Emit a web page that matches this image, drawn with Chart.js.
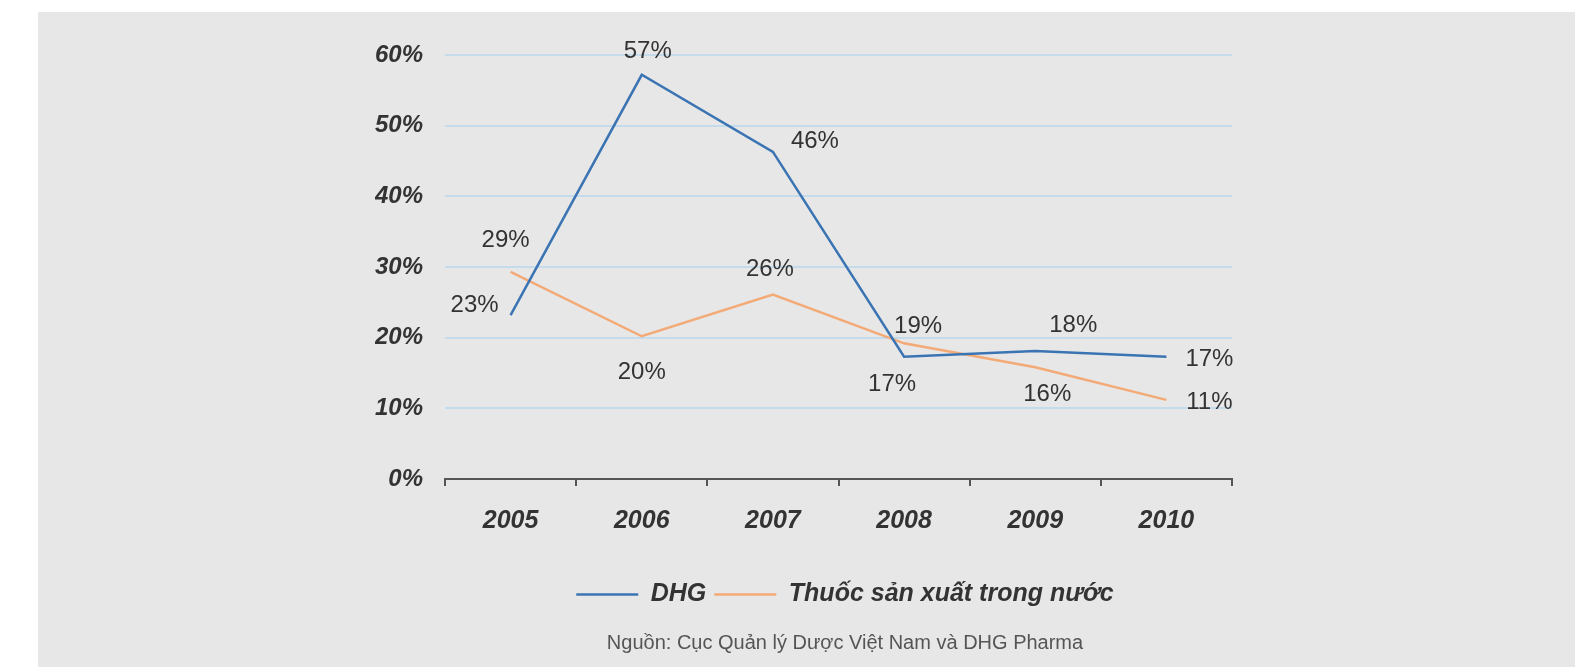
<!DOCTYPE html>
<html lang="vi">
<head>
  <meta charset="UTF-8">
  <title>DHG - Tăng trưởng doanh thu</title>
  <script src="https://cdn.jsdelivr.net/npm/chart.js"></script>
  <style>
    body { margin: 0; background: #fff; }
    #panel { position: absolute; left: 38px; top: 12px; width: 1537px; height: 655px; background: #e7e7e7; }
    #growthChart { position: absolute; left: 0; top: 0; }
  </style>
</head>
<body>
  <div id="panel"></div>
  <canvas id="growthChart" width="1588" height="667"></canvas>

  <script>
    const years = ['2005', '2006', '2007', '2008', '2009', '2010'];
    const dhgGrowth = [23.2, 57.2, 46.3, 17.3, 18.1, 17.3];
    const domesticGrowth = [29.3, 20.2, 26.1, 19.2, 15.8, 11.2];
    const yTicks = [0, 10, 20, 30, 40, 50, 60];
    const seriesNames = ['DHG', 'Thuốc sản xuất trong nước'];
    const sourceNote = 'Nguồn: Cục Quản lý Dược Việt Nam và DHG Pharma';

    // label offsets from each point (px), per series
    const labelOffsets = [
      [[-36, -10], [6, -23], [42, -10], [-12, 28], [38, -26], [43, 3]],
      [[-5, -32], [0, 36], [-3, -25], [14, -17], [12, 27], [43, 3]]
    ];

    const font = "'Liberation Sans', Arial, sans-serif";
    const textColor = '#333';

    const pointLabels = {
      id: 'pointLabels',
      afterDatasetsDraw(chart) {
        const ctx = chart.ctx;
        ctx.save();
        ctx.font = '24px ' + font;
        ctx.fillStyle = textColor;
        ctx.textAlign = 'center';
        ctx.textBaseline = 'middle';
        chart.data.datasets.forEach((ds, i) => {
          chart.getDatasetMeta(i).data.forEach((pt, j) => {
            const off = labelOffsets[i][j];
            ctx.fillText(Math.round(ds.data[j]) + '%', pt.x + off[0], pt.y + off[1]);
          });
        });
        ctx.restore();
      }
    };

    new Chart(document.getElementById('growthChart'), {
      type: 'line',
      data: {
        labels: years,
        datasets: [
          {
            label: seriesNames[0],
            data: dhgGrowth,
            borderColor: '#3b74b3',
            backgroundColor: '#3b74b3',
            borderWidth: 2.5,
            pointRadius: 0,
            tension: 0
          },
          {
            label: seriesNames[1],
            data: domesticGrowth,
            borderColor: '#f3aa76',
            backgroundColor: '#f3aa76',
            borderWidth: 2.5,
            pointRadius: 0,
            tension: 0
          }
        ]
      },
      options: {
        responsive: false,
        animation: false,
        layout: { padding: { left: 375, right: 273, top: 55, bottom: 12 } },
        scales: {
          x: {
            offset: true,
            grid: { offset: true, drawOnChartArea: false, drawTicks: true, tickLength: 7, color: '#555', lineWidth: 2 },
            border: { color: '#555', width: 2 },
            ticks: { padding: 20, color: textColor, font: { family: font, size: 25, style: 'italic', weight: 'bold' } },
            afterFit: s => { s.height = 95; }
          },
          y: {
            min: 0,
            max: 60,
            afterBuildTicks: s => { s.ticks = yTicks.map(v => ({ value: v })); },
            grid: { color: '#c3dbea', lineWidth: 2, drawTicks: false },
            border: { display: false },
            ticks: {
              padding: 22,
              color: textColor,
              font: { family: font, size: 24, style: 'italic', weight: 'bold' },
              callback: v => v + '%'
            },
            afterFit: s => { s.width = 70; }
          },
          yPad: {
            type: 'linear',
            position: 'right',
            grid: { display: false },
            border: { display: false },
            ticks: { display: false },
            afterFit: s => { s.width = 83; }
          }
        },
        plugins: {
          legend: {
            position: 'bottom',
            labels: {
              usePointStyle: true,
              pointStyle: 'line',
              pointStyleWidth: 62,
              padding: 8,
              color: textColor,
              font: { family: font, size: 25, style: 'italic', weight: 'bold' }
            }
          },
          subtitle: {
            display: true,
            position: 'bottom',
            text: sourceNote,
            color: '#555',
            font: { family: font, size: 20, weight: 'normal' },
            padding: { top: 14, bottom: 0 }
          },
          tooltip: { enabled: false }
        }
      },
      plugins: [pointLabels]
    });
  </script>
</body>
</html>
